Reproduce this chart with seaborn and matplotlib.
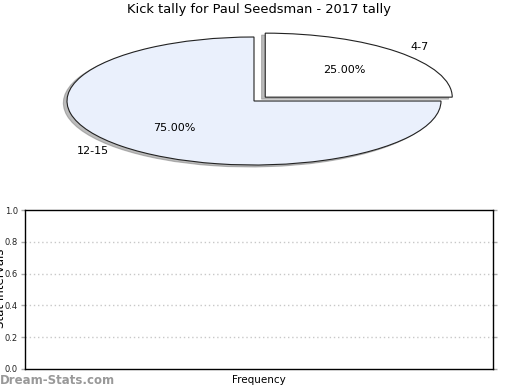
import numpy as np
import pandas as pd
import matplotlib
matplotlib.use("Agg")
import matplotlib.pyplot as plt
import seaborn as sns

# data
labels = ["4-7", "12-15"]
shares = [25.0, 75.0]
colors = ["#ffffff", "#eaf0fc"]
yticks = [0.0, 0.2, 0.4, 0.6, 0.8, 1.0]

sns.set_style("white")
plt.rcParams["font.family"] = ["DejaVu Sans"]
plt.rcParams["text.color"] = "black"
plt.rcParams["axes.labelcolor"] = "black"
plt.rcParams["ytick.labelcolor"] = "#222222"

fig = plt.figure(figsize=(5.2, 3.9), dpi=100)

# pie (squashed to an ellipse)
W, H = 520, 390
ax1 = fig.add_axes([67 / W, 1 - 165 / H, 374 / W, 128 / H])
wedges, texts, autotexts = ax1.pie(
    shares, labels=labels, colors=colors, startangle=0, counterclock=True,
    explode=[0.085, 0], autopct="%.2f%%", pctdistance=0.6, labeldistance=1.1,
    shadow={"ox": -0.014, "oy": -0.022, "color": "#7a7a7a"},
    wedgeprops={"edgecolor": "#222222", "linewidth": 0.8},
    textprops={"fontsize": 8, "color": "black"},
)
ax1.set_aspect("auto")
ax1.set_xlim(-1, 1)
ax1.set_ylim(-1, 1)
for p in ax1.patches:
    p.set_clip_on(False)
for t in texts + autotexts:
    t.set_clip_on(False)
ax1.axis("off")
fig.text(259 / W, 1 - 10 / H, "Kick tally for Paul Seedsman - 2017 tally",
         ha="center", va="center", fontsize=9.4)

# empty bottom chart
ax2 = fig.add_axes([25 / W, 1 - 369 / H, 468 / W, 159 / H])
ax2.set_ylim(0, 1)
ax2.set_xlim(0, 1)
ax2.set_yticks(yticks)
ax2.set_yticklabels([f"{v:.1f}" for v in yticks], fontsize=6)
ax2.set_xticks([])
ax2.tick_params(axis="y", which="both", left=True, right=True, length=3,
                width=1, color="#aaaaaa", pad=2)
for yv in yticks[1:-1]:
    ax2.axhline(yv, color="#c8c8c8", linestyle=(0, (1, 2)), linewidth=1)
for s in ax2.spines.values():
    s.set_color("black")
    s.set_linewidth(1)
ax2.set_xlabel("Frequency", fontsize=7.5, labelpad=4)
fig.text(0.5 / W, 1 - 288 / H, "Stat Intervals", rotation=90, ha="center",
         va="center", fontsize=8.5)
fig.text(0, 1 - 380 / H, "Dream-Stats.com", ha="left", va="center",
         fontsize=8.5, color="#999999", fontweight="bold")

fig.savefig("out.png", dpi=100)
